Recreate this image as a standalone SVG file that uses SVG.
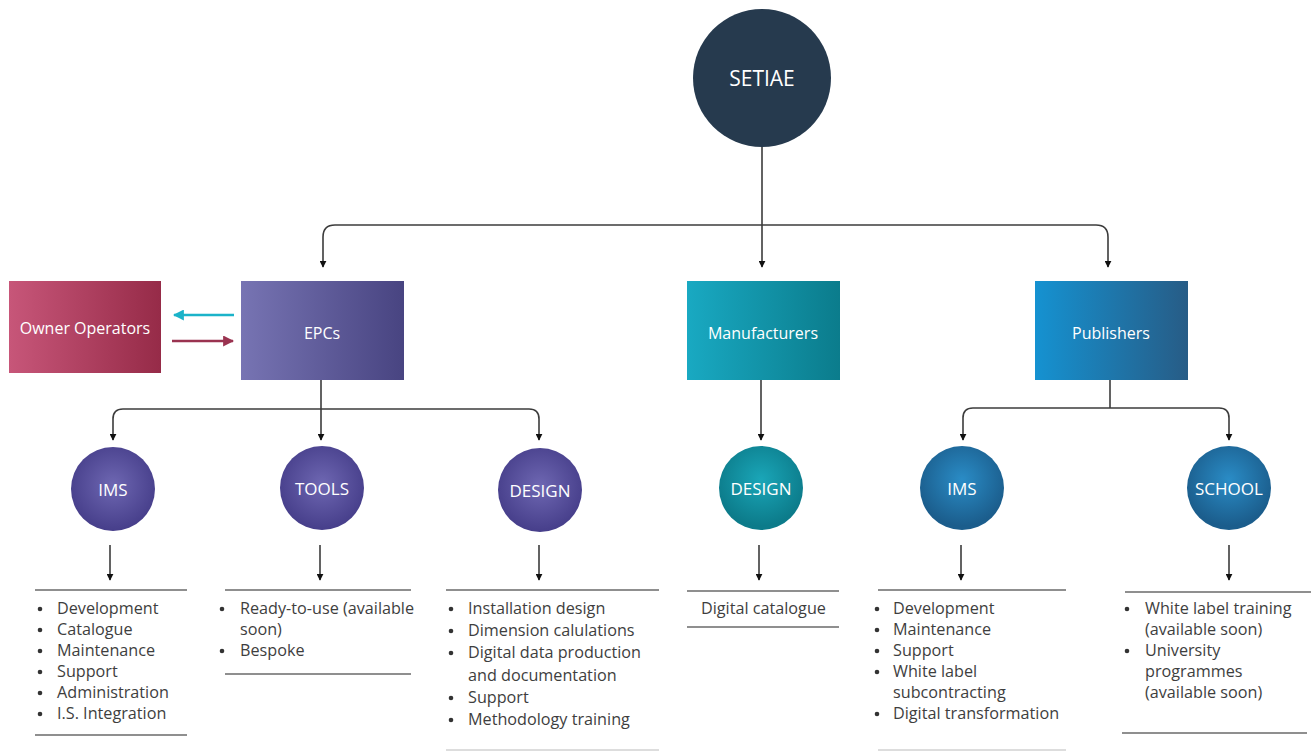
<svg xmlns="http://www.w3.org/2000/svg" width="1311" height="753" viewBox="0 0 1311 753">
<defs>
<linearGradient id="gOwner" x1="0" y1="0" x2="1" y2="0"><stop offset="0" stop-color="#c75679"/><stop offset="1" stop-color="#962b48"/></linearGradient>
<linearGradient id="gEpc" x1="0" y1="0" x2="1" y2="0"><stop offset="0" stop-color="#7774b3"/><stop offset="1" stop-color="#484481"/></linearGradient>
<linearGradient id="gMan" x1="0" y1="0" x2="1" y2="0"><stop offset="0" stop-color="#19a9c2"/><stop offset="1" stop-color="#0b7c8c"/></linearGradient>
<linearGradient id="gPub" x1="0" y1="0" x2="1" y2="0"><stop offset="0" stop-color="#1592d1"/><stop offset="1" stop-color="#275c86"/></linearGradient>
<radialGradient id="cEpc" cx="0.5" cy="0.45" r="0.55"><stop offset="0" stop-color="#6e67b2"/><stop offset="1" stop-color="#463e8a"/></radialGradient>
<radialGradient id="cMan" cx="0.5" cy="0.4" r="0.55"><stop offset="0" stop-color="#1aa6b8"/><stop offset="1" stop-color="#0c7b8a"/></radialGradient>
<radialGradient id="cPub" cx="0.5" cy="0.4" r="0.55"><stop offset="0" stop-color="#2a8cc6"/><stop offset="1" stop-color="#1b5d8c"/></radialGradient>
<marker id="ah" viewBox="0 0 10 10" refX="9" refY="5" markerWidth="7" markerHeight="7" markerUnits="userSpaceOnUse" orient="auto"><path d="M0,0 L10,5 L0,10 z" fill="#111"/></marker>
<marker id="ahC" viewBox="0 0 10 10" refX="9" refY="5" markerWidth="11" markerHeight="11" markerUnits="userSpaceOnUse" orient="auto"><path d="M0,0 L10,5 L0,10 z" fill="#1bb3c9"/></marker>
<marker id="ahM" viewBox="0 0 10 10" refX="9" refY="5" markerWidth="11" markerHeight="11" markerUnits="userSpaceOnUse" orient="auto"><path d="M0,0 L10,5 L0,10 z" fill="#9a3350"/></marker>
</defs>
<style>
.conn{fill:none;stroke:#3c3c3c;stroke-width:1.6;marker-end:url(#ah)}
.plain{fill:none;stroke:#3c3c3c;stroke-width:1.6}
.sep{stroke:#6a6a6a;stroke-width:1.6}
.sepf{stroke:#bbbbbb;stroke-width:1.2}
.lbl{font-family:"Open Sans","Noto Sans",sans-serif;fill:#ffffff;text-anchor:middle;dominant-baseline:central}
.box{font-size:16px}
.cir{font-size:17px}
.li{font-family:"Open Sans","Noto Sans",sans-serif;font-size:16.2px;fill:#3e3e3e}
.bul{fill:#333}
</style>
<rect width="1311" height="753" fill="#ffffff"/>

<g id="connectors">
<line class="conn" x1="762" y1="147" x2="762" y2="267"/>
<path class="conn" d="M762,225 L335,225 Q323,225 323,237 L323,267"/>
<path class="conn" d="M762,225 L1096,225 Q1108,225 1108,237 L1108,267"/>
<line class="conn" x1="321" y1="380" x2="321" y2="440"/>
<path class="conn" d="M321,409 L123,409 Q113,409 113,419 L113,440"/>
<path class="conn" d="M321,409 L529,409 Q539,409 539,419 L539,440"/>
<line class="conn" x1="761" y1="380" x2="761" y2="440"/>
<path class="plain" d="M1110,380 L1110,408"/>
<path class="conn" d="M1110,408 L973,408 Q963,408 963,418 L963,440"/>
<path class="conn" d="M1110,408 L1219,408 Q1229,408 1229,418 L1229,440"/>
<line class="conn" x1="110" y1="545" x2="110" y2="580"/>
<line class="conn" x1="320" y1="545" x2="320" y2="580"/>
<line class="conn" x1="539" y1="545" x2="539" y2="580"/>
<line class="conn" x1="759" y1="545" x2="759" y2="580"/>
<line class="conn" x1="961" y1="545" x2="961" y2="580"/>
<line class="conn" x1="1229" y1="545" x2="1229" y2="580"/>
<line x1="234" y1="315" x2="174" y2="315" stroke="#1bb3c9" stroke-width="2.5" marker-end="url(#ahC)"/>
<line x1="172" y1="341" x2="233" y2="341" stroke="#9a3350" stroke-width="2.5" marker-end="url(#ahM)"/>
</g>

<g id="setiae">
<circle cx="762" cy="78" r="69" fill="#263a4e"/>
<text class="lbl" x="762" y="78" font-size="21">SETIAE</text>
</g>

<g id="owner-operators">
<rect x="9" y="281" width="152" height="92" fill="url(#gOwner)"/>
<text class="lbl box" x="85" y="328">Owner Operators</text>
</g>
<g id="epcs">
<rect x="241" y="281" width="163" height="99" fill="url(#gEpc)"/>
<text class="lbl box" x="322" y="333">EPCs</text>
</g>
<g id="manufacturers">
<rect x="687" y="281" width="153" height="99" fill="url(#gMan)"/>
<text class="lbl box" x="763" y="333">Manufacturers</text>
</g>
<g id="publishers">
<rect x="1035" y="281" width="153" height="99" fill="url(#gPub)"/>
<text class="lbl box" x="1111" y="333">Publishers</text>
</g>

<g id="epc-ims">
<circle cx="113" cy="489" r="42" fill="url(#cEpc)"/>
<text class="lbl cir" x="113" y="489">IMS</text>
</g>
<g id="epc-tools">
<circle cx="322" cy="488" r="42" fill="url(#cEpc)"/>
<text class="lbl cir" x="322" y="488">TOOLS</text>
</g>
<g id="epc-design">
<circle cx="540" cy="490" r="42" fill="url(#cEpc)"/>
<text class="lbl cir" x="540" y="490">DESIGN</text>
</g>
<g id="man-design">
<circle cx="761" cy="488" r="42" fill="url(#cMan)"/>
<text class="lbl cir" x="761" y="488">DESIGN</text>
</g>
<g id="pub-ims">
<circle cx="962" cy="488" r="42" fill="url(#cPub)"/>
<text class="lbl cir" x="962" y="488">IMS</text>
</g>
<g id="pub-school">
<circle cx="1229" cy="488" r="42" fill="url(#cPub)"/>
<text class="lbl cir" x="1229" y="488">SCHOOL</text>
</g>

<g id="list-epc-ims">
<line class="sep" x1="35" y1="590" x2="187" y2="590"/>
<g class="bul"><circle cx="40" cy="609" r="2.3"/><circle cx="40" cy="630" r="2.3"/><circle cx="40" cy="651" r="2.3"/><circle cx="40" cy="672" r="2.3"/><circle cx="40" cy="693" r="2.3"/><circle cx="40" cy="714" r="2.3"/></g>
<text class="li" x="57" y="614">Development</text>
<text class="li" x="57" y="635">Catalogue</text>
<text class="li" x="57" y="656">Maintenance</text>
<text class="li" x="57" y="677">Support</text>
<text class="li" x="57" y="698">Administration</text>
<text class="li" x="57" y="719">I.S. Integration</text>
<line class="sep" x1="35" y1="735" x2="187" y2="735"/>
</g>

<g id="list-epc-tools">
<line class="sep" x1="225" y1="590" x2="411" y2="590"/>
<g class="bul"><circle cx="222" cy="609" r="2.3"/><circle cx="222" cy="651" r="2.3"/></g>
<text class="li" x="240" y="614">Ready-to-use (available</text>
<text class="li" x="240" y="635">soon)</text>
<text class="li" x="240" y="656">Bespoke</text>
<line class="sep" x1="225" y1="674" x2="411" y2="674"/>
</g>

<g id="list-epc-design">
<line class="sep" x1="446" y1="590" x2="659" y2="590"/>
<g class="bul"><circle cx="451" cy="609" r="2.3"/><circle cx="451" cy="631" r="2.3"/><circle cx="451" cy="653" r="2.3"/><circle cx="451" cy="698" r="2.3"/><circle cx="451" cy="720" r="2.3"/></g>
<text class="li" x="468" y="614">Installation design</text>
<text class="li" x="468" y="636">Dimension calulations</text>
<text class="li" x="468" y="658">Digital data production</text>
<text class="li" x="468" y="681">and documentation</text>
<text class="li" x="468" y="703">Support</text>
<text class="li" x="468" y="725">Methodology training</text>
<line class="sepf" x1="446" y1="750" x2="659" y2="750"/>
</g>

<g id="list-man-design">
<line class="sep" x1="687" y1="591" x2="839" y2="591"/>
<text class="li" x="701" y="614">Digital catalogue</text>
<line class="sep" x1="687" y1="627" x2="839" y2="627"/>
</g>

<g id="list-pub-ims">
<line class="sep" x1="878" y1="590" x2="1066" y2="590"/>
<g class="bul"><circle cx="877" cy="609" r="2.3"/><circle cx="877" cy="630" r="2.3"/><circle cx="877" cy="651" r="2.3"/><circle cx="877" cy="672" r="2.3"/><circle cx="877" cy="714" r="2.3"/></g>
<text class="li" x="893" y="614">Development</text>
<text class="li" x="893" y="635">Maintenance</text>
<text class="li" x="893" y="656">Support</text>
<text class="li" x="893" y="677">White label</text>
<text class="li" x="893" y="698">subcontracting</text>
<text class="li" x="893" y="719">Digital transformation</text>
<line class="sepf" x1="878" y1="750" x2="1066" y2="750"/>
</g>

<g id="list-pub-school">
<line class="sep" x1="1125" y1="592" x2="1311" y2="592"/>
<g class="bul"><circle cx="1127" cy="609" r="2.3"/><circle cx="1127" cy="651" r="2.3"/></g>
<text class="li" x="1145" y="614">White label training</text>
<text class="li" x="1145" y="635">(available soon)</text>
<text class="li" x="1145" y="656">University</text>
<text class="li" x="1145" y="677">programmes</text>
<text class="li" x="1145" y="698">(available soon)</text>
<line class="sep" x1="1122" y1="733" x2="1307" y2="733"/>
</g>
</svg>
